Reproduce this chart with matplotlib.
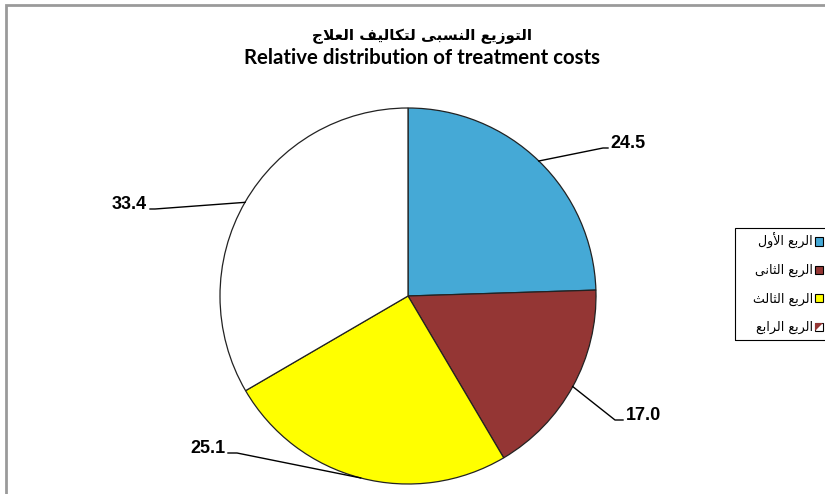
import matplotlib
matplotlib.use("Agg")
import matplotlib.pyplot as plt
from matplotlib.patches import Rectangle, Polygon
from matplotlib.legend_handler import HandlerBase
import numpy as np

# data
quarters = ["الربع الأول", "الربع الثانى", "الربع الثالث", "الربع الرابع"]
shares = [24.5, 17.0, 25.1, 33.4]
colors = ["#45A9D6", "#943634", "#FFFF00", "#FFFFFF"]
title_ar = "التوزيع النسبى لتكاليف العلاج"
title_en = "Relative distribution of treatment costs"

# simple arabic shaping (no bidi lib available)
FORMS = {  # iso, fin, ini, med
    "ا": ("\uFE8D", "\uFE8E", None, None),
    "أ": ("\uFE83", "\uFE84", None, None),
    "ب": ("\uFE8F", "\uFE90", "\uFE91", "\uFE92"),
    "ت": ("\uFE95", "\uFE96", "\uFE97", "\uFE98"),
    "ث": ("\uFE99", "\uFE9A", "\uFE9B", "\uFE9C"),
    "ج": ("\uFE9D", "\uFE9E", "\uFE9F", "\uFEA0"),
    "ر": ("\uFEAD", "\uFEAE", None, None),
    "ز": ("\uFEAF", "\uFEB0", None, None),
    "س": ("\uFEB1", "\uFEB2", "\uFEB3", "\uFEB4"),
    "ع": ("\uFEC9", "\uFECA", "\uFECB", "\uFECC"),
    "ف": ("\uFED1", "\uFED2", "\uFED3", "\uFED4"),
    "ك": ("\uFED9", "\uFEDA", "\uFEDB", "\uFEDC"),
    "ل": ("\uFEDD", "\uFEDE", "\uFEDF", "\uFEE0"),
    "ن": ("\uFEE5", "\uFEE6", "\uFEE7", "\uFEE8"),
    "و": ("\uFEED", "\uFEEE", None, None),
    "ى": ("\uFEEF", "\uFEF0", "\uFBE8", "\uFBE9"),
    "ي": ("\uFEF1", "\uFEF2", "\uFEF3", "\uFEF4"),
}
LAMALEF = {"ا": ("\uFEFB", "\uFEFC"), "أ": ("\uFEF7", "\uFEF8")}


def dual(c):
    return c in FORMS and FORMS[c][2] is not None


def shape(s):
    out = []
    i = 0
    while i < len(s):
        c = s[i]
        prev = s[i - 1] if i > 0 else " "
        joins_prev = dual(prev) and c in FORMS
        if c == "ل" and i + 1 < len(s) and s[i + 1] in LAMALEF:
            out.append(LAMALEF[s[i + 1]][1 if joins_prev else 0])
            i += 2
            continue
        if c not in FORMS:
            out.append(c)
            i += 1
            continue
        nxt = s[i + 1] if i + 1 < len(s) else " "
        joins_next = dual(c) and nxt in FORMS
        iso, fin, ini, med = FORMS[c]
        if joins_prev and joins_next:
            out.append(med)
        elif joins_prev:
            out.append(fin)
        elif joins_next:
            out.append(ini)
        else:
            out.append(iso)
        i += 1
    return "".join(out)[::-1]


class SplitHandler(HandlerBase):
    def create_artists(self, legend, orig, xd, yd, w, h, fs, trans):
        box = Rectangle((xd, yd), w, h, facecolor="white", edgecolor="black", lw=0.8, transform=trans)
        tri = Polygon([(xd, yd), (xd, yd + h), (xd + w, yd + h)], closed=True,
                      facecolor="#943634", edgecolor="none", transform=trans)
        return [box, tri]


W, H = 825, 494
cx, cy, R = 408, 296, 188


def px(x, y):
    return ((x - cx) / R, (cy - y) / R)


fig = plt.figure(figsize=(W / 100, H / 100), dpi=100)
ax = fig.add_axes([0, 0, 1, 1])
wedges, _ = ax.pie(shares, colors=colors, startangle=90, counterclock=False,
                   wedgeprops=dict(edgecolor="#222222", linewidth=0.9))
ax.set_aspect("auto")
ax.set_xlim(-cx / R, (W - cx) / R)
ax.set_ylim(-(H - cy) / R, cy / R)
ax.axis("off")

# labels with leader lines: (elbow px, end px, ha)
label_pos = [((603, 148), (608, 148), "left"),
             ((615, 420), (623, 420), "left"),
             ((237, 453), (228, 453), "right"),
             ((155, 209), (150, 209), "right")]
for w, val, (elb, end, ha) in zip(wedges, shares, label_pos):
    ang = np.deg2rad((w.theta1 + w.theta2) / 2)
    ex, ey = np.cos(ang), np.sin(ang)
    (bx, by), (tx, ty) = px(*elb), px(*end)
    ax.plot([ex, bx, tx], [ey, by, ty], color="black", lw=1)
    off = 0.015 if ha == "left" else -0.015
    ax.text(tx + off, ty, f"{val:.1f}", ha=ha, va="baseline", fontsize=13,
            fontweight="bold", family="Liberation Sans")

fig.text(422 / W, 1 - 36 / H, shape(title_ar), ha="center", va="center",
         fontsize=11, fontweight="bold", family="DejaVu Sans")
fig.text(422 / W, 1 - 58 / H, title_en, ha="center", va="center",
         fontsize=14.7, fontweight="bold", family="Lato")

handles = [Rectangle((0, 0), 1, 1, facecolor=c, edgecolor="black", lw=0.8) for c in colors]
leg = ax.legend(handles, [shape(q) for q in quarters], loc="upper left",
                bbox_to_anchor=(753 / W, 1 - 233 / H), bbox_transform=fig.transFigure,
                markerfirst=False, handlelength=0.65, handleheight=0.65, handletextpad=0.15,
                labelspacing=1.2, borderpad=0, borderaxespad=0, frameon=False,
                prop={"family": "DejaVu Sans", "size": 9.1},
                handler_map={handles[3]: SplitHandler()})
ax.add_patch(Rectangle((735 / W, 1 - 340 / H), 0.2, 112 / H, transform=fig.transFigure,
                       fill=False, edgecolor="black", lw=0.8, clip_on=False))

fig.patches.append(Rectangle((6 / W, -0.1), 1.2, 1.1 - 5 / H, transform=fig.transFigure,
                             fill=False, edgecolor="#9A9A9A", lw=2))

fig.savefig("out.png", dpi=100)
